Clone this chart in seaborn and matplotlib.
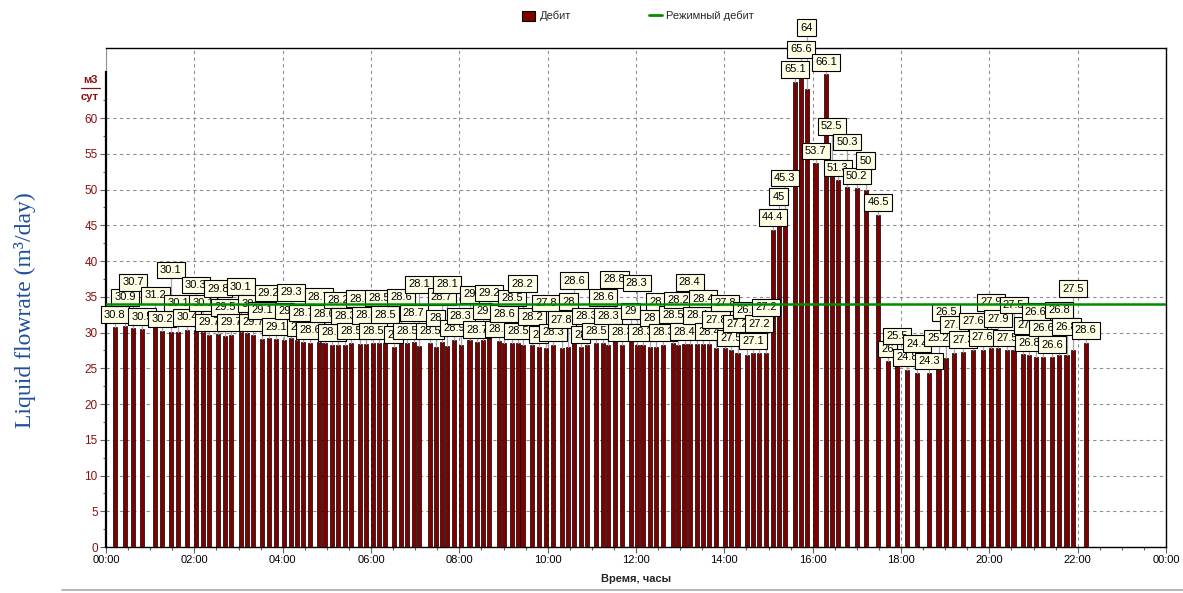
import numpy as np
import pandas as pd
import matplotlib
matplotlib.use("Agg")
import matplotlib.pyplot as plt
import seaborn as sns
from matplotlib.patches import Patch
from matplotlib.lines import Line2D
from matplotlib.ticker import MultipleLocator, FixedLocator

# ---------------- data ----------------
# measurement times, minutes after 00:00
minutes = [12, 26, 37, 49, 67, 76, 88, 98, 110, 122, 132, 140, 152, 162, 170, 183, 192, 200,
           212, 221, 231, 242, 251, 259, 268, 277, 289, 297, 307, 315, 325, 333, 345, 353,
           363, 371, 379, 391, 401, 409, 418, 425, 440, 448, 456, 463, 473, 482, 494, 504,
           512, 520, 534, 541, 552, 560, 566, 579, 588, 598, 607, 619, 628, 636, 645, 653,
           666, 675, 682, 691, 701, 713, 721, 729, 739, 747, 757, 770, 777, 786, 793, 803,
           811, 819, 829, 841, 849, 858, 871, 879, 887, 897, 906, 914, 922, 936, 944, 952,
           964, 978, 986, 994, 1007, 1020, 1032, 1049, 1062, 1075, 1088, 1102, 1118, 1131,
           1141, 1152, 1164, 1178, 1191, 1202, 1212, 1224, 1233, 1246, 1254, 1263, 1273,
           1285, 1295, 1305, 1314, 1331]
# liquid flowrate, m3/day
flowrate = [30.8, 30.9, 30.7, 30.5, 31.2, 30.2, 30.1, 30.1, 30.4, 30.3, 30.1, 29.7, 29.8, 29.5,
            29.7, 30.1, 30.0, 29.7, 29.1, 29.2, 29.1, 29.0, 29.3, 29.0, 28.7, 28.6, 28.7, 28.6,
            28.3, 28.2, 28.3, 28.5, 28.4, 28.4, 28.5, 28.5, 28.5, 28.0, 28.6, 28.5, 28.7, 28.1,
            28.5, 28.0, 28.7, 28.1, 28.9, 28.3, 29.0, 28.7, 29.0, 29.2, 28.8, 28.6, 28.5, 28.5,
            28.2, 28.2, 28.0, 27.8, 28.3, 27.8, 28.0, 28.6, 28.0, 28.3, 28.5, 28.6, 28.3, 28.8,
            28.3, 29.0, 28.3, 28.3, 28.0, 28.0, 28.3, 28.5, 28.2, 28.4, 28.4, 28.4, 28.4, 28.4,
            27.8, 27.8, 27.5, 27.2, 26.8, 27.1, 27.2, 27.2, 44.4, 45.0, 45.3, 65.1, 65.6, 64.0,
            53.7, 66.1, 52.5, 51.3, 50.3, 50.2, 50.0, 46.5, 26.0, 25.5, 24.8, 24.4, 24.3, 25.2,
            26.5, 27.1, 27.3, 27.6, 27.6, 27.9, 27.9, 27.5, 27.5, 27.0, 26.8, 26.6, 26.6, 26.6,
            26.8, 26.8, 27.5, 28.6]
regime_rate = 34.0
xtick_hours = list(range(0, 25, 2))
xtick_labels = [f"{h % 24:02d}:00" for h in xtick_hours]
ytick_values = list(range(0, 61, 5))

# ---------------- style ----------------
sns.set_theme(style="white")
plt.rcParams["font.family"] = ["Liberation Sans", "DejaVu Sans"]

BAR_RED = "#800000"
TICK_RED = "#8B1010"
GREEN = "#008C00"

fig = plt.figure(figsize=(11.83, 5.93), dpi=100)
ax = fig.add_axes([106 / 1183, 1 - 547 / 593, (1166 - 106) / 1183, (547 - 48) / 593])

df = pd.DataFrame({"hour": np.array(minutes) / 60.0, "rate": flowrate})
min_gap = np.diff(np.sort(df["hour"].unique())).min()
bar_w = (4.3 / 44.2)  # about 4-5 px wide bars, in hours
sns.barplot(data=df, x="hour", y="rate", native_scale=True, orient="x",
            width=bar_w / min_gap, color=BAR_RED, saturation=1, errorbar=None,
            edgecolor="black", linewidth=0.5, ax=ax, zorder=3)

xmax_h, ymax = 24, 69.8
ax.set_xlim(0, xmax_h)
ax.set_ylim(0, ymax)

ax.xaxis.set_major_locator(FixedLocator(xtick_hours))
ax.set_xticklabels(xtick_labels, fontsize=8, color="black")
ax.xaxis.set_minor_locator(MultipleLocator(0.5))
ax.yaxis.set_major_locator(FixedLocator(ytick_values))
ax.set_yticklabels([str(v) for v in ytick_values], fontsize=8.5, color=TICK_RED)
ax.yaxis.set_minor_locator(FixedLocator(np.arange(2.5, 66, 5)))
ax.tick_params(axis="both", which="major", direction="out", length=4, width=0.8,
               color="#606060", bottom=True, left=True, pad=2)
ax.tick_params(axis="both", which="minor", direction="out", length=2.5, width=0.8,
               color="#606060", bottom=True, left=True)

ax.grid(True, which="major", color="#909090", linestyle=(0, (3, 3)), linewidth=0.8, zorder=0)
ax.set_axisbelow(True)
for s in ["top", "right", "bottom"]:
    ax.spines[s].set_color("black")
    ax.spines[s].set_linewidth(1.0)
ax.spines["left"].set_color("black")
ax.spines["left"].set_linewidth(1.6)
ax.spines["left"].set_bounds(0, 66.5)
ax.axvline(0, ymin=66.5 / ymax, ymax=1, color="#909090", lw=0.8, clip_on=False)

ax.set_xlabel("Время, часы", fontsize=8, fontweight="bold", labelpad=6)
ax.set_ylabel("")

# regime line
ax.axhline(regime_rate, color=GREEN, lw=1.8, zorder=10)

# ---------------- value callouts ----------------
fig.canvas.draw()
bbox_ax = ax.get_window_extent()
px_x = bbox_ax.width / xmax_h
px_y = bbox_ax.height / ymax
box_h = 16.5 / px_y
gap = 4 / px_y
placed = []
for h, v in zip(df["hour"], df["rate"]):
    s = f"{v:g}"
    w = (len(s) * 6.0 + 10) / px_x
    x0, x1 = h - w / 2, h + w / 2
    chosen = None
    for k in range(8):
        y0 = v + gap + k * box_h
        y1 = y0 + box_h
        ok = True
        for (a0, a1, b0, b1) in placed:
            ovx = min(x1, a1) - max(x0, a0)
            ovy = min(y1, b1) - max(y0, b0)
            if ovx > 0.45 * w and ovy > 0.3 * box_h:
                ok = False
                break
        if ok:
            chosen = y0
            break
    if chosen is None:
        chosen = v + gap
    placed.append((x0, x1, chosen, chosen + box_h))
    ax.plot([h, h], [v, chosen], color="#A8A8A8", lw=0.9, zorder=5, clip_on=False)
    ax.text(h, chosen + box_h / 2, s, ha="center", va="center", fontsize=8, color="black",
            zorder=6, clip_on=False,
            bbox=dict(boxstyle="square,pad=0.3", fc="#FFFFE6", ec="black", lw=0.8))

# units over the y axis
fig.text(90 / 1183, 1 - 80 / 593, "м3", ha="center", va="center", fontsize=8,
         fontweight="bold", color=TICK_RED)
fig.add_artist(Line2D([81 / 1183, 100 / 1183], [1 - 88.5 / 593] * 2, color=TICK_RED, lw=0.9))
fig.text(90 / 1183, 1 - 97 / 593, "сут", ha="center", va="center", fontsize=8,
         fontweight="bold", color=TICK_RED)

# big left label
fig.text(25 / 1183, 1 - 310 / 593, "Liquid flowrate (m³/day)", rotation=90,
         ha="center", va="center", fontsize=17, color="#1F4F9C",
         family=["Liberation Serif", "DejaVu Serif"])

# legend
handles = [Patch(facecolor=BAR_RED, edgecolor="black", lw=0.8, label="Дебит"),
           Line2D([0], [0], color=GREEN, lw=2, label="Режимный дебит")]
fig.legend(handles=handles, loc="center", bbox_to_anchor=(638 / 1183, 1 - 16 / 593), ncol=2,
           frameon=False, fontsize=8, columnspacing=7, handlelength=1.2, handleheight=1.0,
           handletextpad=0.4)

# thin frame line at bottom
fig.add_artist(Line2D([62 / 1183, 1], [1 - 590 / 593] * 2, color="#A8A8A8", lw=1.2))

fig.savefig("out.png", dpi=100)
